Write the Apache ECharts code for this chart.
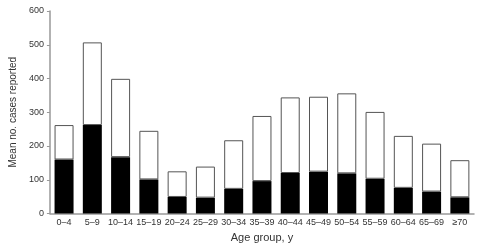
<!DOCTYPE html>
<html>
<head>
<meta charset="utf-8">
<script src="https://cdn.jsdelivr.net/npm/echarts@6/dist/echarts.min.js"></script>
<style>
  html, body { margin: 0; padding: 0; background: #fff; }
  #chart { width: 480px; height: 251px; }
</style>
</head>
<body>
<div id="chart"></div>
<script>
// age groups on the x axis
const ageGroups = ['0–4', '5–9', '10–14', '15–19', '20–24', '25–29', '30–34', '35–39',
  '40–44', '45–49', '50–54', '55–59', '60–64', '65–69', '≥70'];
// full bar height (mean cases)
const totals = [262, 507, 399, 245, 125, 139, 217, 289, 344, 346, 356, 301, 230, 207, 158];
// black lower part
const blackPart = [160, 262, 167, 101, 49, 47, 73, 96, 120, 124, 119, 103, 76, 65, 48];
// white upper part, what is left of each bar
const whitePart = totals.map((t, i) => t - blackPart[i]);

const chart = echarts.init(document.getElementById('chart'));
const option = {
  animation: false,
  grid: { left: 42, right: 6, top: 11, bottom: 37.5 },
  xAxis: {
    type: 'category',
    data: ageGroups,
    name: 'Age group, y',
    nameLocation: 'middle',
    nameGap: 12,
    nameTextStyle: { fontFamily: 'Liberation Sans', fontSize: 11, color: '#333' },
    axisLine: { lineStyle: { color: '#999', width: 1.5 } },
    axisTick: { show: false },
    axisLabel: { fontFamily: 'Liberation Sans', fontSize: 9, color: '#333', margin: 5, interval: 0 }
  },
  yAxis: {
    type: 'value',
    min: 0,
    max: 600,
    interval: 100,
    name: 'Mean no. cases reported',
    nameLocation: 'middle',
    nameGap: 27,
    nameTextStyle: { fontFamily: 'Liberation Sans', fontSize: 10, color: '#333', padding: [0, 0, 0, 0] },
    axisLine: { show: true, lineStyle: { color: '#999', width: 1.5 } },
    axisTick: { show: true, length: 3, lineStyle: { color: '#999' } },
    splitLine: { show: false },
    axisLabel: { fontFamily: 'Liberation Sans', fontSize: 9, color: '#333', margin: 6 }
  },
  series: [
    {
      name: 'black',
      type: 'bar',
      stack: 'all',
      barWidth: 19,
      data: blackPart,
      itemStyle: { color: '#000', borderColor: '#000', borderWidth: 0 }
    },
    {
      name: 'white',
      type: 'bar',
      stack: 'all',
      barWidth: 19,
      data: whitePart,
      itemStyle: { color: '#fff', borderColor: '#555', borderWidth: 1 }
    }
  ]
};
chart.setOption(option);
</script>
</body>
</html>
